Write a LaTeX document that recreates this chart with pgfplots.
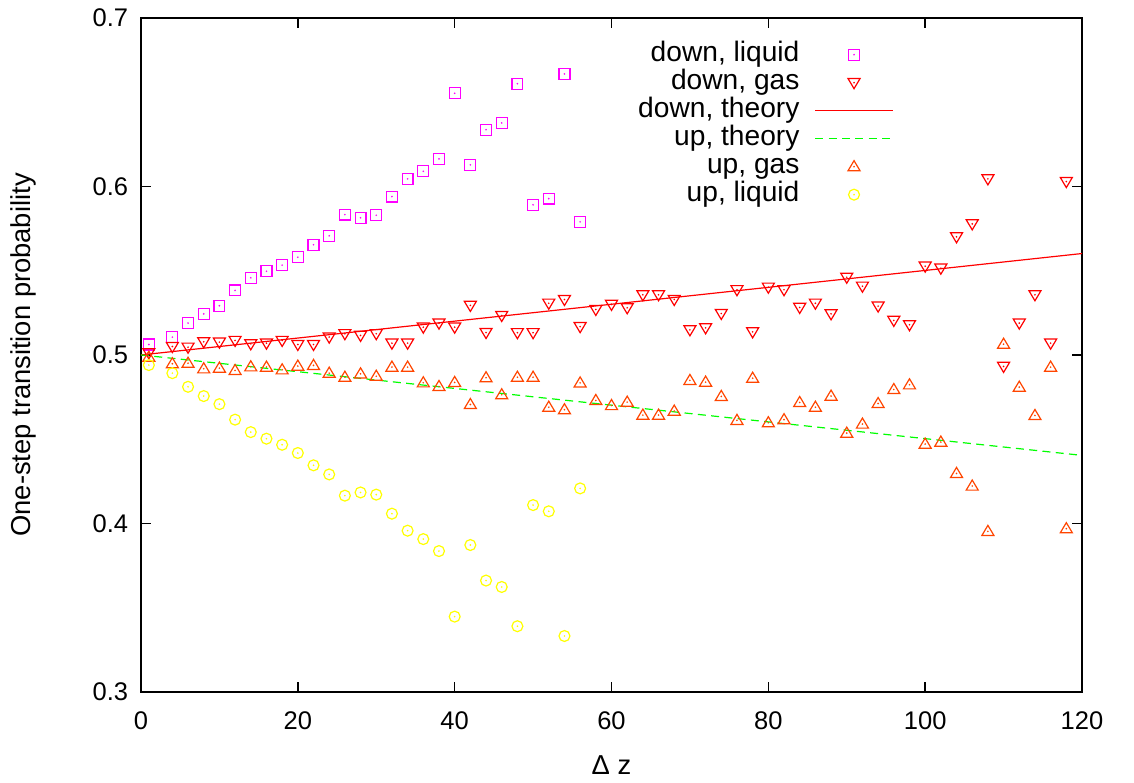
\documentclass[border=0pt]{standalone}
\usepackage{fontspec}
\setmainfont{Liberation Sans}
\usepackage{pgfplots}
\pgfplotsset{compat=1.18}

\definecolor{cmag}{RGB}{255,0,255}
\definecolor{cred}{RGB}{255,0,0}
\definecolor{cgreen}{RGB}{0,255,0}
\definecolor{corange}{RGB}{255,69,0}
\definecolor{cyellow}{RGB}{255,255,0}

% gnuplot-like point types with a centre dot
\pgfdeclareplotmark{sqdot}{%
  \pgfpathrectangle{\pgfqpoint{-\pgfplotmarksize}{-\pgfplotmarksize}}{\pgfqpoint{2\pgfplotmarksize}{2\pgfplotmarksize}}%
  \pgfusepathqstroke
  \pgfpathcircle{\pgfpointorigin}{0.35pt}\pgfusepathqfill}
\pgfdeclareplotmark{circdot}{%
  \pgfpathcircle{\pgfpointorigin}{\pgfplotmarksize}\pgfusepathqstroke
  \pgfpathcircle{\pgfpointorigin}{0.35pt}\pgfusepathqfill}
\pgfdeclareplotmark{tridown}{%
  \pgfpathmoveto{\pgfqpoint{0pt}{-1.1\pgfplotmarksize}}%
  \pgfpathlineto{\pgfqpoint{1.1\pgfplotmarksize}{0.75\pgfplotmarksize}}%
  \pgfpathlineto{\pgfqpoint{-1.1\pgfplotmarksize}{0.75\pgfplotmarksize}}%
  \pgfpathclose\pgfusepathqstroke
  \pgfpathcircle{\pgfpointorigin}{0.35pt}\pgfusepathqfill}
\pgfdeclareplotmark{triup}{%
  \pgfpathmoveto{\pgfqpoint{0pt}{1.1\pgfplotmarksize}}%
  \pgfpathlineto{\pgfqpoint{1.1\pgfplotmarksize}{-0.75\pgfplotmarksize}}%
  \pgfpathlineto{\pgfqpoint{-1.1\pgfplotmarksize}{-0.75\pgfplotmarksize}}%
  \pgfpathclose\pgfusepathqstroke
  \pgfpathcircle{\pgfpointorigin}{0.35pt}\pgfusepathqfill}

\begin{document}
\fontsize{9.5}{11}\selectfont
\begin{tikzpicture}
\begin{axis}[
    scale only axis,
    width=352.9bp,
    height=252.75bp,
    xmin=0, xmax=120,
    ymin=0.3, ymax=0.7,
    xtick={0,20,...,120},
    ytick={0.3,0.4,0.5,0.6,0.7},
    y tick label style={/pgf/number format/fixed, /pgf/number format/fixed zerofill, /pgf/number format/precision=1},
    /pgf/number format/assume math mode=true,
    tick align=inside,
    major tick length=3.75bp,
    minor tick num=0,
    axis line style={line width=0.6pt},
    every tick/.style={line width=0.6pt, black},
    tick label style={font=\fontsize{9.6}{11}\selectfont},
    x tick label style={yshift=-4bp},
    y tick label style={xshift=-1.5bp},
    label style={font=\fontsize{10.3}{12}\selectfont},
    xlabel={Δ z},
    ylabel={One-step transition probability},
    x label style={at={(axis description cs:0.5,-0.1083)}, anchor=center},
    y label style={at={(axis description cs:-0.1245,0.5)}, anchor=center},
    clip=false,
    legend cell align=right,
    legend plot pos=right,
    legend image code/.code={\draw[mark repeat=2,mark phase=2,#1] plot coordinates {(0bp,0bp) (14.5bp,0bp) (29bp,0bp)};},
    legend style={draw=none, fill=none, at={(axis description cs:0.8085,0.975)}, anchor=north east,
        row sep=0pt, column sep=5bp,
        nodes={text height=7.2bp, text depth=1.8bp, inner sep=0.75bp, font=\fontsize{10.6}{12}\selectfont}},
    mark size=2.05bp,
]
% down, liquid
\addplot[only marks, mark=sqdot, color=cmag, line width=0.45pt] coordinates {
(1,0.5062) (4,0.5106) (6,0.5189) (8,0.5244) (10,0.5292) (12,0.5383) (14,0.5458)
(16,0.5497) (18,0.5533) (20,0.5580) (22,0.5654) (24,0.5707) (26,0.5833) (28,0.5814)
(30,0.5829) (32,0.5940) (34,0.6045) (36,0.6090) (38,0.6164) (40,0.6553) (42,0.6128)
(44,0.6337) (46,0.6377) (48,0.6610) (50,0.5891) (52,0.5928) (54,0.6668) (56,0.5790)
};
\addlegendentry{down, liquid}
% down, gas
\addplot[only marks, mark=tridown, color=cred, line width=0.45pt] coordinates {
(1,0.5013) (4,0.5050) (6,0.5046) (8,0.5078) (10,0.5076) (12,0.5086) (14,0.5066)
(16,0.5070) (18,0.5086) (20,0.5062) (22,0.5062) (24,0.5106) (26,0.5126) (28,0.5116)
(30,0.5126) (32,0.5070) (34,0.5070) (36,0.5165) (38,0.5189) (40,0.5165) (42,0.5294)
(44,0.5133) (46,0.5234) (48,0.5132) (50,0.5132) (52,0.5307) (54,0.5329) (56,0.5168)
(58,0.5270) (60,0.5300) (62,0.5280) (64,0.5357) (66,0.5357) (68,0.5329) (70,0.5149)
(72,0.5161) (74,0.5246) (76,0.5387) (78,0.5137) (80,0.5402) (82,0.5387) (84,0.5282)
(86,0.5307) (88,0.5244) (90,0.5461) (92,0.5408) (94,0.5290) (96,0.5205) (98,0.5179)
(100,0.5527) (102,0.5515) (104,0.5701) (106,0.5778) (108,0.6045) (110,0.4932)
(112,0.5189) (114,0.5357) (116,0.5070) (118,0.6029)
};
\addlegendentry{down, gas}
% down, theory
\addplot[no marks, color=cred, line width=0.45pt] coordinates {(0,0.5) (120,0.5602)};
\addlegendentry{down, theory}
% up, theory
\addplot[no marks, color=cgreen, line width=0.45pt, dash pattern=on 3bp off 2bp] coordinates {(0,0.5) (120,0.4404)};
\addlegendentry{up, theory}
% up, gas
\addplot[only marks, mark=triup, color=corange, line width=0.45pt] coordinates {
(1,0.4987) (4,0.4948) (6,0.4951) (8,0.4918) (10,0.4922) (12,0.4908) (14,0.4930)
(16,0.4928) (18,0.4912) (20,0.4934) (22,0.4938) (24,0.4892) (26,0.4868) (28,0.4888)
(30,0.4874) (32,0.4928) (34,0.4928) (36,0.4835) (38,0.4813) (40,0.4837) (42,0.4706)
(44,0.4865) (46,0.4764) (48,0.4868) (50,0.4868) (52,0.4690) (54,0.4675) (56,0.4834)
(58,0.4730) (60,0.4700) (62,0.4720) (64,0.4643) (66,0.4643) (68,0.4667) (70,0.4849)
(72,0.4839) (74,0.4754) (76,0.4612) (78,0.4862) (80,0.4598) (82,0.4616) (84,0.4718)
(86,0.4690) (88,0.4756) (90,0.4536) (92,0.4590) (94,0.4712) (96,0.4795) (98,0.4823)
(100,0.4471) (102,0.4483) (104,0.4297) (106,0.4222) (108,0.3953) (110,0.5064)
(112,0.4809) (114,0.4641) (116,0.4928) (118,0.3969)
};
\addlegendentry{up, gas}
% up, liquid
\addplot[only marks, mark=circdot, color=cyellow, line width=0.45pt] coordinates {
(1,0.4940) (4,0.4892) (6,0.4811) (8,0.4756) (10,0.4708) (12,0.4616) (14,0.4542)
(16,0.4503) (18,0.4467) (20,0.4418) (22,0.4345) (24,0.4291) (26,0.4165) (28,0.4184)
(30,0.4171) (32,0.4058) (34,0.3957) (36,0.3907) (38,0.3836) (40,0.3447) (42,0.3872)
(44,0.3661) (46,0.3623) (48,0.3390) (50,0.4109) (52,0.4072) (54,0.3332) (56,0.4208)
};
\addlegendentry{up, liquid}
% fix the picture extent to the reference's proportions
\path (rel axis cs:-0.14984,-0.13056) rectangle (rel axis cs:1.05526,1.02671);
\end{axis}
\end{tikzpicture}
\end{document}
